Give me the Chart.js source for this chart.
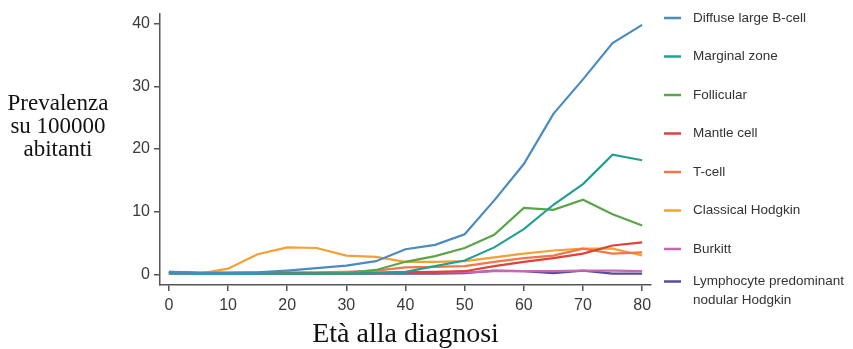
<!DOCTYPE html>
<html>
<head>
<meta charset="utf-8">
<script src="https://cdn.jsdelivr.net/npm/chart.js@4/dist/chart.umd.min.js"></script>
<style>
html,body{margin:0;padding:0;background:#fff;}
#wrap{position:relative;width:853px;height:349px;}
</style>
</head>
<body>
<div id="wrap"><canvas id="c" width="853" height="349"></canvas></div>
<script>
const ages = [0,5,10,15,20,25,30,35,40,45,50,55,60,65,70,75,80];
const seriesNames = ["Diffuse large B-cell","Marginal zone","Follicular","Mantle cell","T-cell","Classical Hodgkin","Burkitt","Lymphocyte predominant\nnodular Hodgkin"];
const seriesColors = ["#4a8cc0","#24a093","#5aa54a","#e0413a","#f4744c","#f5a033","#c866b6","#5c4a9e"];
const diffuse    = [0.4,0.2,0.2,0.3,0.6,1.0,1.4,2.1,4.0,4.7,6.4,11.8,17.6,25.6,31.1,36.9,39.8];
const marginal   = [0.2,0.1,0.1,0.1,0.1,0.1,0.1,0.2,0.4,1.3,2.2,4.3,7.2,11.1,14.4,19.1,18.2];
const follicular = [0.2,0.1,0.1,0.1,0.1,0.1,0.2,0.7,2.0,2.9,4.2,6.3,10.6,10.3,11.9,9.6,7.8];
const mantle     = [0.3,0.2,0.2,0.2,0.2,0.2,0.2,0.2,0.3,0.4,0.5,1.3,2.0,2.6,3.3,4.6,5.1];
const tcell      = [0.4,0.3,0.3,0.3,0.3,0.3,0.4,0.6,1.1,1.2,1.3,2.0,2.6,3.0,4.1,3.3,3.5];
const classical  = [0.2,0.1,0.9,3.2,4.3,4.2,3.0,2.8,2.0,2.0,2.1,2.7,3.3,3.8,4.1,4.1,3.0];
const burkitt    = [0.3,0.2,0.2,0.2,0.2,0.2,0.2,0.3,0.3,0.3,0.3,0.5,0.5,0.5,0.6,0.6,0.5];
const lpnh       = [0.1,0.1,0.1,0.1,0.1,0.1,0.1,0.1,0.1,0.1,0.2,0.6,0.5,0.2,0.6,0.1,0.1];
const xTicks = [0,10,20,30,40,50,60,70,80];
const yTicks = [0,10,20,30,40];
const xTitle = "Età alla diagnosi";
const yTitleLines = ["Prevalenza","su 100000","abitanti"];

const allSeries = [diffuse,marginal,follicular,mantle,tcell,classical,burkitt,lpnh];
const datasets = allSeries.map((vals,i)=>({
  label: seriesNames[i],
  data: vals.map((v,j)=>({x: ages[j], y: v})),
  borderColor: seriesColors[i],
  backgroundColor: seriesColors[i],
  borderWidth: 2.2,
  pointRadius: 0,
  tension: 0,
  fill: false
}));

const SANS = "'Liberation Sans', Arial, sans-serif";
const SERIF = "'Liberation Serif', 'Times New Roman', serif";

const extras = {
  id: 'extras',
  afterDraw(chart){
    const ctx = chart.ctx;
    ctx.save();
    // y title
    ctx.fillStyle = '#111';
    ctx.font = "23px " + SERIF;
    ctx.textAlign = 'center';
    ctx.textBaseline = 'middle';
    yTitleLines.forEach((t,i)=>ctx.fillText(t, 58, 104 + i*23));
    // legend
    const x0 = chart.chartArea.right + 13;
    chart.data.datasets.forEach((ds,i)=>{
      const lines = ds.label.split('\n');
      let y = 18 + i*38.5;
      if (lines.length > 1) y -= 6;
      ctx.strokeStyle = ds.borderColor;
      ctx.lineWidth = 2.5;
      ctx.beginPath();
      ctx.moveTo(x0, y);
      ctx.lineTo(x0 + 17, y);
      ctx.stroke();
      ctx.fillStyle = '#333';
      ctx.font = "13.5px " + SANS;
      ctx.textAlign = 'left';
      ctx.textBaseline = 'middle';
      lines.forEach((l,k)=>ctx.fillText(l, x0 + 29, y + k*19));
    });
    ctx.restore();
  }
};

new Chart(document.getElementById('c'), {
  type: 'line',
  data: { datasets },
  options: {
    responsive: false,
    animation: false,
    layout: { padding: { left: 0, top: 12, right: 202, bottom: 0 } },
    plugins: { legend: { display: false }, tooltip: { enabled: false } },
    scales: {
      x: {
        type: 'linear',
        min: -1.5, max: 81.5,
        afterBuildTicks: s => { s.ticks = xTicks.map(v=>({value:v})); },
        afterFit: s => { s.height = 64; },
        ticks: { color: '#3a3a3a', font: { family: SANS, size: 16 }, padding: 5, maxRotation: 0, autoSkip: false,
                 callback: v => String(v) },
        grid: { display: true, drawOnChartArea: false, drawTicks: true, tickLength: 6, color: '#555', lineWidth: 1.5 },
        border: { display: true, color: '#555', width: 1.5 },
        title: { display: true, text: xTitle, color: '#111', font: { family: SERIF, size: 28, lineHeight: 1 }, padding: 0 }
      },
      y: {
        type: 'linear',
        min: -1.7, max: 41.6,
        afterBuildTicks: s => { s.ticks = yTicks.map(v=>({value:v})); },
        afterFit: s => { s.width = 160; },
        ticks: { color: '#3a3a3a', font: { family: SANS, size: 16 }, padding: 4, callback: v => String(v) },
        grid: { display: true, drawOnChartArea: false, drawTicks: true, tickLength: 6, color: '#555', lineWidth: 1.5 },
        border: { display: true, color: '#555', width: 1.5 }
      }
    }
  },
  plugins: [extras]
});
</script>
</body>
</html>
